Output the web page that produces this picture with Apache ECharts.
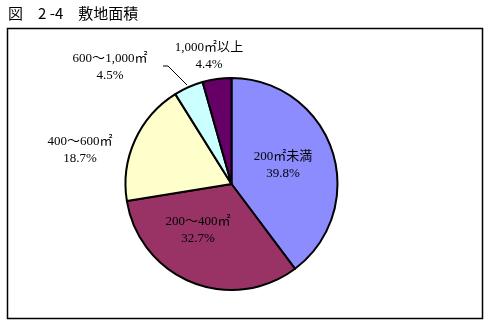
<!DOCTYPE html>
<html><head><meta charset="utf-8">
<script src="https://cdn.jsdelivr.net/npm/echarts@6/dist/echarts.min.js"></script>
<style>html,body{margin:0;padding:0;background:#fff}#c{width:487px;height:323px}</style>
</head><body><div id="c"></div>
<script>
const titleText = '図　2 -4　敷地面積';
const categories = ['200㎡未満', '200～400㎡', '400～600㎡', '600～1,000㎡', '1,000㎡以上'];
const shares = [39.8, 32.7, 18.7, 4.5, 4.4];
const colors = ['#8C8CFF', '#993366', '#FFFFCC', '#CCFFFF', '#660066'];
const labelCenters = [[283, 165], [198, 230], [80, 150], [110, 67], [209, 56]];

const chart = echarts.init(document.getElementById('c'), null, {renderer: 'canvas'});
const font = "'Liberation Serif','Noto Sans CJK JP',serif";
chart.setOption({
  animation: false,
  title: {
    text: titleText, left: 3, top: 1,
    textStyle: {fontSize: 15, fontWeight: 'normal', color: '#000', fontFamily: "'Noto Sans CJK JP',sans-serif"}
  },
  graphic: [{
    type: 'rect', shape: {x: 7.5, y: 28.5, width: 475, height: 290},
    style: {fill: null, stroke: '#000', lineWidth: 1.5}, z: -1
  }],
  series: [{
    type: 'pie',
    center: [231.5, 184],
    radius: 106,
    startAngle: 90,
    clockwise: true,
    itemStyle: {borderColor: '#000', borderWidth: 2},
    label: {
      show: true, position: 'outside', color: '#000', fontSize: 13, lineHeight: 17,
      fontFamily: font, align: 'center',
      formatter: p => p.name + '\n' + p.value.toFixed(1) + '%'
    },
    labelLine: {show: false, lineStyle: {color: '#000', width: 1}},
    labelLayout: function (p) {
      const c = labelCenters[p.dataIndex];
      const r = {x: c[0], y: c[1], align: 'center', verticalAlign: 'middle'};
      if (p.dataIndex === 3) r.labelLinePoints = [[163, 66], [168, 66], [187, 85]];
      return r;
    },
    data: categories.map((n, i) => ({
      name: n, value: shares[i], itemStyle: {color: colors[i]},
      labelLine: {show: i === 3}
    }))
  }]
});
</script></body></html>
